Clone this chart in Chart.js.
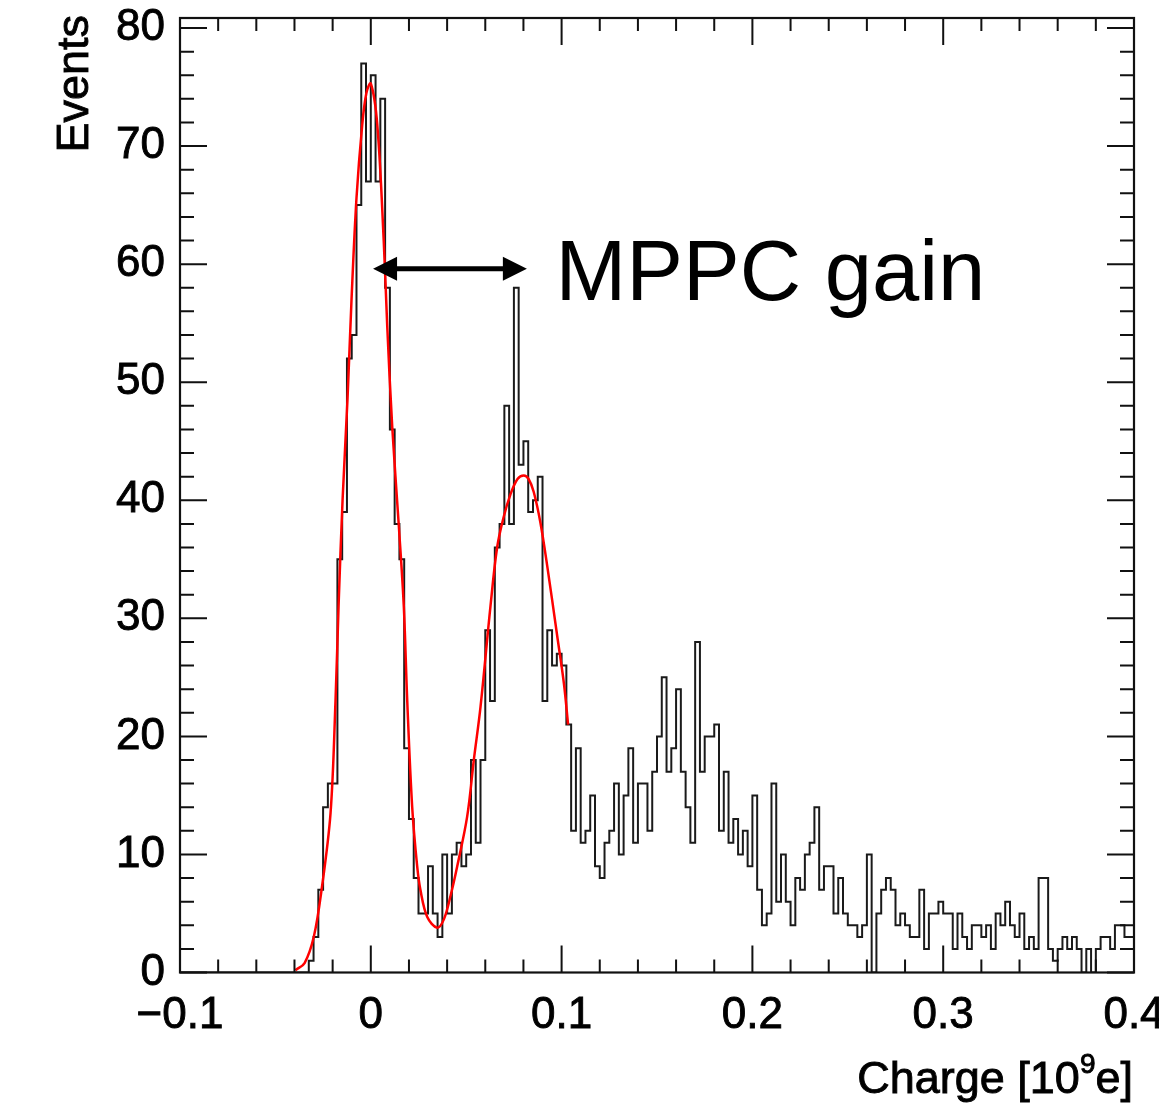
<!DOCTYPE html>
<html>
<head>
<meta charset="utf-8">
<script src="https://cdn.jsdelivr.net/npm/chart.js@4.4.1/dist/chart.umd.min.js"></script>
<style>
  html, body { margin: 0; padding: 0; background: #fff; }
  #wrap { width: 1159px; height: 1106px; position: relative; }
</style>
</head>
<body>
<div id="wrap"><canvas id="chargeChart"></canvas></div>
<script>
// ===== HISTOGRAM: 200 bins from -0.1 to 0.4 =====
const binLow   = -0.1;
const binWidth = 0.0025;
const binCounts = [
   0,  0,  0,  0,  0,  0,  0,  0,  0,  0,  0,  0,  0,  0,  0,  0,  0,  0,  0,  0,
   0,  0,  0,  0,  0,  0,  0,  1,  3,  7, 14, 16, 16, 35, 39, 52, 54, 65, 77, 67,
  76, 67, 74, 58, 46, 38, 35, 19, 13,  8,  5,  5,  9,  5,  3, 10,  5, 10, 11,  9,
  10, 18, 11, 18, 29, 23, 36, 38, 48, 38, 58, 43, 45, 39, 40, 42, 23, 29, 26, 27,
  26, 21, 12, 19, 11, 12, 15,  9,  8, 11, 12, 16, 10, 15, 19, 11, 16, 16, 12, 17,
  20, 25, 17, 19, 24, 17, 14, 11, 28, 17, 20, 20, 21, 12, 17, 11, 13, 10, 12,  9,
  15,  7,  4,  5, 16,  6, 10,  6,  4,  8,  7, 10, 11, 14,  7,  9,  9,  5,  8,  5,
   4,  4,  3,  4, 10,  0,  5,  7,  8,  7,  4,  5,  4,  3,  3,  7,  2,  5,  5,  6,
   5,  5,  2,  5,  3,  2,  4,  4,  3,  4,  2,  5,  4,  6,  4,  3,  5,  2,  3,  2,
   8,  8,  2,  1,  2,  3,  2,  3,  2,  0,  2,  0,  2,  3,  3,  2,  4,  4,  3,  3
];

// ===== FIT CURVE =====
const fitX = [-0.0395, -0.0347, -0.0299, -0.0258, -0.0211, -0.0185, -0.0169, -0.0148,
              -0.0122, -0.0101, -0.0075, -0.0045, -0.0023, 0.0000, 0.0034, 0.0068,
               0.0086,  0.0112,  0.0147,  0.0173,  0.0191, 0.0217, 0.0243, 0.0260,
               0.0296,  0.0348,  0.0383,  0.0418,  0.0453, 0.0505, 0.0540, 0.0575,
               0.0627,  0.0662,  0.0695,  0.0732,  0.0769, 0.0802, 0.0827, 0.0854,
               0.0889,  0.0925,  0.0977,  0.1012,  0.1034];
const fitY = [0.2, 0.8, 3.0, 7.0, 13.5, 23.0, 31.0, 40.0,
              48.6, 57.0, 65.6, 71.8, 74.5, 75.3, 71.8, 61.9,
              54.8, 46.3, 37.8, 31.0, 23.0, 14.0, 9.0, 7.0,
              4.7, 3.8, 4.5, 6.5, 9.0, 13.2, 18.0, 22.5,
              31.0, 36.0, 38.5, 40.5, 41.8, 42.1, 41.8, 40.7,
              38.1, 34.4, 28.5, 24.5, 21.0];

// ===== AXES =====
const xTicks = [-0.1, 0, 0.1, 0.2, 0.3, 0.4];
const yTicks = [0, 10, 20, 30, 40, 50, 60, 70, 80];
const xMinorStep = 0.02;
const yMinorStep = 2;
const yMax = 80.85;

const yTitle = "Events";
const xTitleParts = ["Charge [10", "9", "e]"];

// annotation: arrow between the two peaks
const gainLabel = "MPPC gain";
const gainArrow = { x0: 0.0012, x1: 0.0818, y: 59.6 };
const gainText  = { x: 0.0968, y: 57.0 };

const FONT = "'Liberation Sans', Arial, Helvetica, sans-serif";

const histPoints = binCounts.map((c, i) => ({ x: binLow + i * binWidth, y: c }));
histPoints.push({ x: binLow + binCounts.length * binWidth, y: binCounts[binCounts.length - 1] });

const fitPoints = fitX.map((x, i) => ({ x: x, y: fitY[i] }));

function fmtTick(v) {
  const r = Math.round(v * 10) / 10;
  if (r < 0) return "\u2212" + Math.abs(r);
  return String(r);
}

// text drawn a little heavier, like the ROOT bitmap font
function heavyText(ctx, s, x, y) {
  ctx.fillText(s, x, y);
  ctx.strokeText(s, x, y);
}

// frame, inward ticks, titles and the arrow annotation
const rootStyle = {
  id: "rootStyle",
  afterDatasetsDraw(chart) {
    const { ctx, chartArea: a, scales: { x, y } } = chart;
    ctx.save();
    ctx.strokeStyle = "#111";
    ctx.fillStyle = "#000";
    ctx.lineWidth = 2;

    // x ticks (bottom + top)
    const nx = Math.round((0.4 - (-0.1)) / xMinorStep);
    for (let k = 0; k <= nx; k++) {
      const px = x.getPixelForValue(-0.1 + k * xMinorStep);
      const len = k % 5 === 0 ? 27 : 13;
      ctx.beginPath();
      ctx.moveTo(px, a.bottom); ctx.lineTo(px, a.bottom - len);
      ctx.moveTo(px, a.top);    ctx.lineTo(px, a.top + len);
      ctx.stroke();
    }
    // y ticks (left + right)
    const ny = Math.floor(80 / yMinorStep);
    for (let k = 0; k <= ny; k++) {
      const py = y.getPixelForValue(k * yMinorStep);
      const len = k % 5 === 0 ? 27 : 14;
      ctx.beginPath();
      ctx.moveTo(a.left, py);  ctx.lineTo(a.left + len, py);
      ctx.moveTo(a.right, py); ctx.lineTo(a.right - len, py);
      ctx.stroke();
    }
    ctx.lineWidth = 2.2;
    ctx.strokeRect(a.left, a.top, a.right - a.left, a.bottom - a.top);

    ctx.strokeStyle = "#000";
    ctx.lineWidth = 0.9;

    // y title
    ctx.save();
    ctx.font = "45px " + FONT;
    ctx.textAlign = "right";
    ctx.textBaseline = "alphabetic";
    ctx.translate(a.left - 92, a.top - 3);
    ctx.rotate(-Math.PI / 2);
    heavyText(ctx, yTitle, 0, 0);
    ctx.restore();

    // x title with superscript
    const big = "45px " + FONT, small = "28px " + FONT;
    ctx.font = big;
    const w0 = ctx.measureText(xTitleParts[0]).width;
    const w2 = ctx.measureText(xTitleParts[2]).width;
    ctx.font = small;
    const w1 = ctx.measureText(xTitleParts[1]).width;
    let tx = a.right - 1 - (w0 + w1 + w2);
    const ty = a.bottom + 120;
    ctx.textAlign = "left";
    ctx.textBaseline = "alphabetic";
    ctx.font = big;   heavyText(ctx, xTitleParts[0], tx, ty); tx += w0;
    ctx.font = small; heavyText(ctx, xTitleParts[1], tx, ty - 20); tx += w1;
    ctx.font = big;   heavyText(ctx, xTitleParts[2], tx, ty);

    // double arrow
    const ax0 = x.getPixelForValue(gainArrow.x0);
    const ax1 = x.getPixelForValue(gainArrow.x1);
    const ay  = y.getPixelForValue(gainArrow.y);
    ctx.lineWidth = 5;
    ctx.beginPath();
    ctx.moveTo(ax0 + 20, ay); ctx.lineTo(ax1 - 20, ay);
    ctx.stroke();
    ctx.beginPath();
    ctx.moveTo(ax0, ay); ctx.lineTo(ax0 + 24, ay - 12); ctx.lineTo(ax0 + 24, ay + 12);
    ctx.closePath(); ctx.fill();
    ctx.beginPath();
    ctx.moveTo(ax1, ay); ctx.lineTo(ax1 - 24, ay - 12); ctx.lineTo(ax1 - 24, ay + 12);
    ctx.closePath(); ctx.fill();

    ctx.font = "85px " + FONT;
    ctx.fillText(gainLabel, x.getPixelForValue(gainText.x), y.getPixelForValue(gainText.y));
    ctx.restore();
  }
};

const ctx = document.getElementById("chargeChart").getContext("2d");
new Chart(ctx, {
  type: "line",
  data: {
    datasets: [
      {
        label: "fit",
        data: fitPoints,
        borderColor: "#ff0000",
        borderWidth: 2.5,
        pointRadius: 0,
        fill: false,
        tension: 0.35,
        order: 0
      },
      {
        label: "charge",
        data: histPoints,
        borderColor: "#1a1a1a",
        borderWidth: 2,
        pointRadius: 0,
        fill: false,
        stepped: true,
        order: 1
      }
    ]
  },
  options: {
    responsive: true,
    maintainAspectRatio: false,
    animation: false,
    layout: { padding: { top: 18, right: 25, left: 0, bottom: 0 } },
    plugins: { legend: { display: false }, tooltip: { enabled: false } },
    scales: {
      x: {
        type: "linear",
        min: -0.1,
        max: 0.4,
        grid: { display: false, drawTicks: false },
        border: { display: false },
        afterBuildTicks: axis => { axis.ticks = xTicks.map(v => ({ value: v })); },
        afterFit: axis => {
          axis.height = 133.5;
          axis.paddingLeft = 0; axis.paddingRight = 0;
        },
        ticks: {
          color: "#000",
          font: { family: FONT, size: 44 },
          textStrokeColor: "#000",
          textStrokeWidth: 0.9,
          padding: 17,
          maxRotation: 0,
          autoSkip: false,
          callback: v => fmtTick(v)
        }
      },
      y: {
        type: "linear",
        min: 0,
        max: yMax,
        grid: { display: false, drawTicks: false },
        border: { display: false },
        afterBuildTicks: axis => { axis.ticks = yTicks.map(v => ({ value: v })); },
        afterFit: axis => {
          axis.width = 180;
          axis.paddingTop = 0; axis.paddingBottom = 0;
        },
        ticks: {
          color: "#000",
          font: { family: FONT, size: 44 },
          textStrokeColor: "#000",
          textStrokeWidth: 0.9,
          padding: 15,
          autoSkip: false,
          callback: v => String(v)
        }
      }
    }
  },
  plugins: [rootStyle]
});
</script>
</body>
</html>
